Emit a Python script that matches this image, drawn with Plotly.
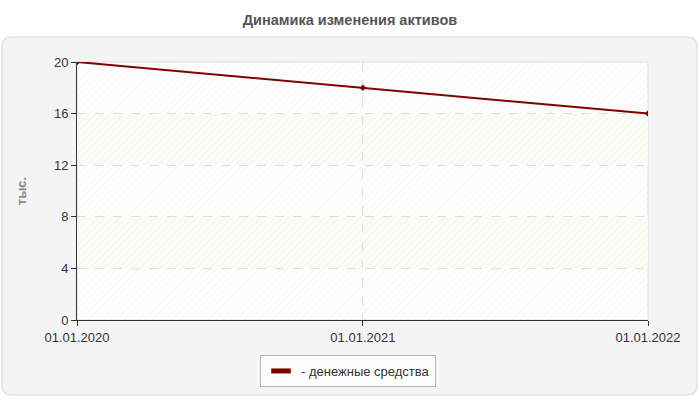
import plotly.graph_objects as go

dates = ["2020-01-01", "2021-01-01", "2022-01-01"]
tick_text = ["01.01.2020", "01.01.2021", "01.01.2022"]
cash = [20, 18, 16]
y_ticks = [0, 4, 8, 12, 16, 20]
series_name = "- денежные средства"

W, H = 700, 400
L, R, T, B = 77, 52, 62, 80
PW, PH = W - L - R, H - T - B


def px_x(p):
    return (p - L) / PW


def px_y(p):
    return (H - B - p) / PH


def rounded_box(x0, y0, x1, y1, r):
    # path in paper units built from pixel corners
    X = px_x
    Y = px_y
    return (
        f"M {X(x0 + r)} {Y(y0)} L {X(x1 - r)} {Y(y0)} Q {X(x1)} {Y(y0)} {X(x1)} {Y(y0 + r)} "
        f"L {X(x1)} {Y(y1 - r)} Q {X(x1)} {Y(y1)} {X(x1 - r)} {Y(y1)} "
        f"L {X(x0 + r)} {Y(y1)} Q {X(x0)} {Y(y1)} {X(x0)} {Y(y1 - r)} "
        f"L {X(x0)} {Y(y0 + r)} Q {X(x0)} {Y(y0)} {X(x0 + r)} {Y(y0)} Z"
    )


fig = go.Figure()

# hatch background
fig.add_trace(go.Bar(
    x=["2021-01-01"], y=[20], width=[732 * 86400000],
    marker=dict(color="rgba(0,0,0,0)", line=dict(width=0),
                pattern=dict(shape="/", fgcolor="#e8e8e8", bgcolor="rgba(0,0,0,0)",
                             size=5, solidity=0.2)),
    showlegend=False, hoverinfo="skip",
))

fig.add_trace(go.Scatter(
    x=dates, y=cash, mode="lines+markers", name=series_name,
    line=dict(color="#800000", width=2),
    marker=dict(symbol="diamond", size=5, color="#800000"),
    showlegend=False,
))

# legend entry
fig.add_trace(go.Scatter(
    x=[None], y=[None], mode="markers", name=series_name,
    marker=dict(symbol="line-ew-open", size=14, color="#800000",
                line=dict(width=6, color="#800000")),
))

shapes = [
    dict(type="path", xref="paper", yref="paper", path=rounded_box(2, 37, 697, 395, 10),
         fillcolor="#f4f4f4", line=dict(color="#e2e2e2", width=1.5), layer="below"),
    dict(type="rect", xref="paper", yref="paper", x0=0, y0=0, x1=1, y1=1,
         fillcolor="white", line=dict(color="#dddddd", width=1), layer="below"),
]
for lo in (4, 12):
    shapes.append(dict(type="rect", xref="paper", yref="y", x0=0, x1=1, y0=lo, y1=lo + 4,
                       fillcolor="#fdfdf5", line=dict(width=0), layer="below"))

fig.update_layout(
    width=W, height=H,
    margin=dict(l=L, r=R, t=T, b=B),
    paper_bgcolor="white",
    plot_bgcolor="rgba(0,0,0,0)",
    font=dict(family="Liberation Sans, Arial, sans-serif", size=13, color="#333"),
    title=dict(text="<b>Динамика изменения активов</b>", x=0.5, xref="container",
               xanchor="center", y=1 - 20 / H, yanchor="middle",
               font=dict(size=14.5, color="#555")),
    shapes=shapes,
    bargap=0,
    showlegend=True,
    legend=dict(orientation="h", x=px_x(348), xanchor="center", y=px_y(355), yanchor="top",
                bgcolor="#fdfdfd", bordercolor="#b5b5b5", borderwidth=1,
                font=dict(size=13, color="#333"), itemwidth=30),
    xaxis=dict(type="date", range=[dates[0], dates[-1]], tickvals=dates, ticktext=tick_text,
               showline=True, linecolor="#333", linewidth=1, ticks="outside", ticklen=5,
               tickcolor="#333", showgrid=True, gridcolor="#dddddd", griddash="dash",
               zeroline=False, fixedrange=True),
    yaxis=dict(range=[0, 20], tickvals=y_ticks, showline=True, linecolor="#333",
               linewidth=1, ticks="outside", ticklen=5, tickcolor="#333",
               showgrid=True, gridcolor="#dddddd", griddash="dash", zeroline=False,
               title=dict(text="<b>тыс.</b>", font=dict(size=13, color="#888"), standoff=24),
               fixedrange=True),
)

fig.write_html("out.html", config={"displayModeBar": False},
               post_script="document.body.style.margin='0';")
